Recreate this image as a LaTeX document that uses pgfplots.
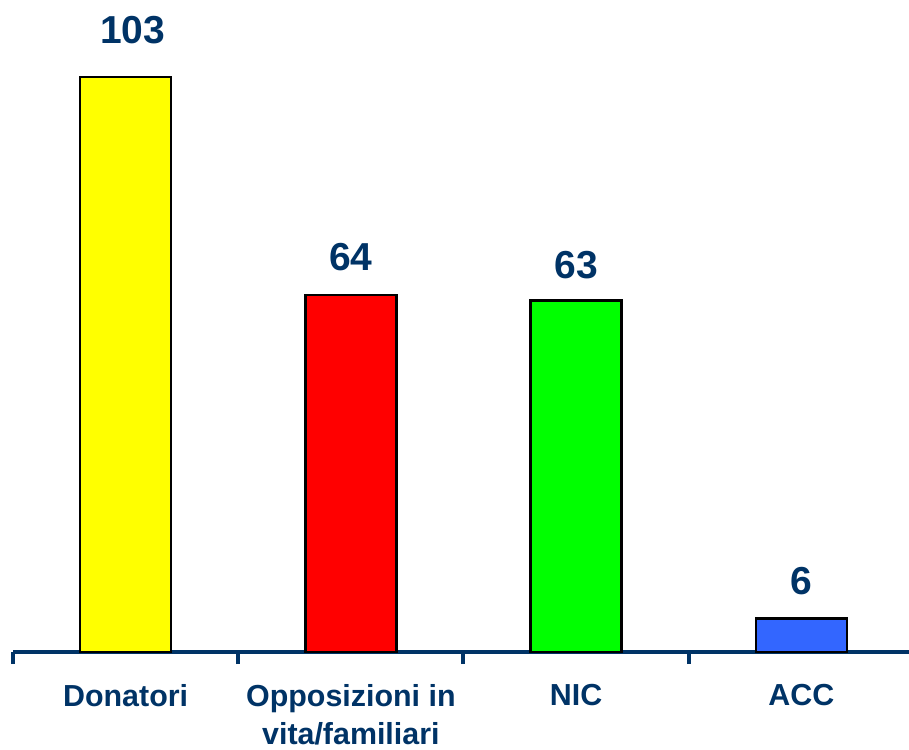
\documentclass[border=0pt]{standalone}
\usepackage{pgfplots}
\pgfplotsset{compat=1.18}
\usepackage{fontspec}
\setmainfont{Liberation Sans}
\definecolor{navy}{RGB}{0,51,102}
\definecolor{cyel}{RGB}{255,255,0}
\definecolor{cred}{RGB}{255,0,0}
\definecolor{cgrn}{RGB}{0,255,0}
\definecolor{cblu}{RGB}{51,102,255}
\begin{document}
\begin{tikzpicture}
\useasboundingbox (0,0) rectangle (454.5pt,374.5pt);
\begin{axis}[
    at={(6.5pt,48.5pt)}, anchor=south west,
    scale only axis, width=448pt, height=307pt,
    xmin=-0.5, xmax=3.478, ymin=0, ymax=110,
    clip=false,
    /pgf/number format/assume math mode=true,
    ybar, bar width=0.404, bar shift=0pt,
    axis x line*=bottom, hide y axis,
    axis line style={navy, line width=2pt},
    xtick={0,1,2,3},
    xticklabels={Donatori,{Opposizioni in\\vita/familiari},NIC,ACC},
    major x tick style={draw=none},
    minor xtick={-0.5,0.5,1.5,2.5,3.5},
    minor tick length=6pt,
    minor x tick style={navy, line width=2pt},
    tick align=outside,
    xticklabel style={font=\fontsize{15.2}{19}\selectfont\bfseries, text=navy, align=center, anchor=north, yshift=-8.5pt},
    every node near coord/.append style={font=\fontsize{19.5}{23}\selectfont\bfseries, text=navy, anchor=base},
    nodes near coords,
]
\addplot[fill=cyel, draw=black, line width=1.2pt, nodes near coords style={yshift=17pt, xshift=3.5pt}] coordinates {(0,103)};
\addplot[fill=cred, draw=black, line width=1.2pt, nodes near coords style={yshift=12pt}] coordinates {(1,64)};
\addplot[fill=cgrn, draw=black, line width=1.2pt, nodes near coords style={yshift=11pt}] coordinates {(2,63)};
\addplot[fill=cblu, draw=black, line width=1.2pt, nodes near coords style={yshift=12pt}] coordinates {(3,6)};
\end{axis}
\end{tikzpicture}
\end{document}
